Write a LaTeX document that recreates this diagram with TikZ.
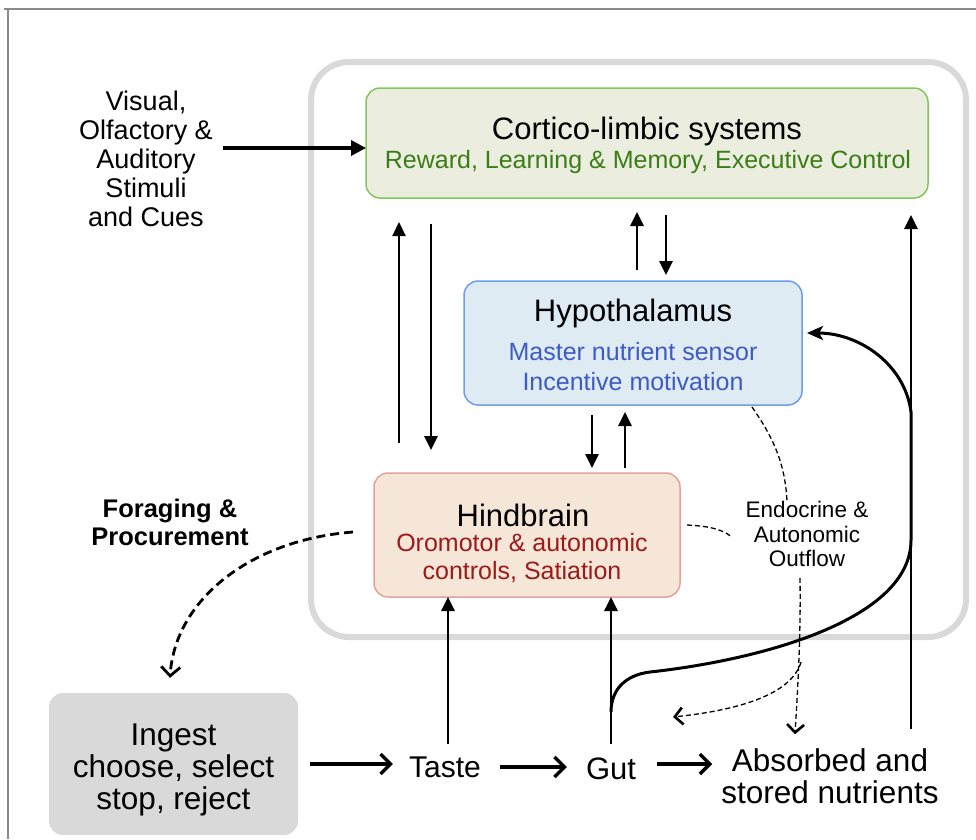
\documentclass[tikz,border=0pt]{standalone}
\usepackage{fontspec}
\setmainfont{Liberation Sans}
\usetikzlibrary{arrows.meta}
\definecolor{bigframe}{HTML}{D9D9D9}
\definecolor{gfill}{HTML}{EBEEDF}
\definecolor{gline}{HTML}{80C857}
\definecolor{gtext}{HTML}{3B7D17}
\definecolor{bfill}{HTML}{DFEBF3}
\definecolor{bline}{HTML}{6D9EEB}
\definecolor{btext}{HTML}{3D5BC2}
\definecolor{rfill}{HTML}{F6E6D8}
\definecolor{rline}{HTML}{E6A0A0}
\definecolor{rtext}{HTML}{9B1B1B}
\definecolor{ingfill}{HTML}{D9D9D9}
\definecolor{outline}{HTML}{8A8A8A}
\begin{document}
\begin{tikzpicture}[x=1pt,y=-1pt,
  box/.style={rectangle, rounded corners=14pt, line width=1.5pt, inner sep=0pt, outer sep=0pt},
  ttl/.style={font=\fontsize{31}{33}\selectfont, inner sep=0pt},
  sub/.style={font=\fontsize{25}{30}\selectfont, align=center, inner sep=0pt},
  lbl/.style={font=\fontsize{31.5}{32}\selectfont, align=center, inner sep=0pt},
  arrv/.style={line width=2.8pt, -{Triangle[length=14pt,width=13pt]}},
  arrh/.style={line width=3.4pt, -{Straight Barb[length=10pt,width=20pt]}},
  thindash/.style={line width=1.3pt, dash pattern=on 5pt off 3pt},
  thindasharr/.style={thindash, -{Straight Barb[length=8pt,width=17pt,line width=2.6pt]}},
]
\useasboundingbox (0,0) rectangle (976,839);
% outer frame lines
\draw[outline, line width=1.2pt] (4,9) -- (976,9);
\draw[outline, line width=1.2pt] (8,9) -- (8,839);

% big brain frame
\node[draw=bigframe, line width=6pt, rounded corners=38pt, minimum width=655pt, minimum height=575pt, inner sep=0pt] (brain) at (638.5,349.5) {};

% boxes
\node[box, draw=gline, fill=gfill, minimum width=562pt, minimum height=110pt] (cl) at (647,143) {};
\node[box, draw=bline, fill=bfill, minimum width=338pt, minimum height=124pt] (hyp) at (633,343) {};
\node[box, draw=rline, fill=rfill, minimum width=306pt, minimum height=124pt] (hb) at (527,535) {};
\node[rectangle, rounded corners=14pt, fill=ingfill, minimum width=249pt, minimum height=142pt, inner sep=0pt] (ing) at (173.5,764) {};

% box texts
\node[ttl] (clt) at (647,131) {Cortico-limbic systems};
\node[sub, text=gtext] (cls) at (648,162) {Reward, Learning \& Memory, Executive Control};
\node[ttl] (hypt) at (633,313) {Hypothalamus};
\node[sub, text=btext] (hyps) at (633,367) {Master nutrient sensor\\Incentive motivation};
\node[ttl] (hbt) at (523,515) {Hindbrain};
\node[sub, text=rtext, font=\fontsize{25}{28}\selectfont] (hbs) at (522,558) {Oromotor \& autonomic\\controls, Satiation};
\node[lbl] (ingt) at (173.5,770) {Ingest\\choose, select\\stop, reject};

% free labels
\node[font=\fontsize{27}{29}\selectfont, align=center, inner sep=0pt] (vis) at (146,159) {Visual,\\Olfactory \&\\Auditory\\Stimuli\\and Cues};
\node[font=\bfseries\fontsize{25.5}{28}\selectfont, align=center, inner sep=0pt] (for) at (170,522) {Foraging \&\\Procurement};
\node[font=\fontsize{22.5}{24.5}\selectfont, align=center, inner sep=0pt] (eao) at (807,534) {Endocrine \&\\Autonomic\\Outflow};
\node[font=\fontsize{30}{32}\selectfont, inner sep=0pt] (taste) at (445,767) {Taste};
\node[font=\fontsize{31}{32}\selectfont, inner sep=0pt] (gut) at (611,769) {Gut};
\node[lbl] (abs) at (830,776) {Absorbed and\\stored nutrients};

% coordinates for free ends
\coordinate (gutbranch) at (611,712);
\coordinate (branch) at (801,662);
\coordinate (bt) at (673,717);

% visual -> cortico
\draw[line width=3.4pt, -{Triangle[length=15pt,width=15pt]}, shorten <=10pt] (vis.east |- 0,148) -- (cl.west |- 0,148);

% cortico <-> hindbrain (left)
\draw[arrv, line width=2.2pt, shorten <=30pt, shorten >=24pt] (hb.north -| 399,0) -- (cl.south -| 399,0);
\draw[arrv, shorten <=26pt, shorten >=23pt] (cl.south -| 431,0) -- (hb.north -| 431,0);
% cortico <-> hypothalamus
\draw[arrv, shorten <=11pt, shorten >=14pt] (hyp.north -| 637,0) -- (cl.south -| 637,0);
\draw[arrv, shorten <=17pt, shorten >=6pt] (cl.south -| 666,0) -- (hyp.north -| 666,0);
% hypothalamus <-> hindbrain
\draw[arrv, shorten <=10pt, shorten >=5pt] (hyp.south -| 592,0) -- (hb.north -| 592,0);
\draw[arrv, shorten <=5pt, shorten >=7pt] (hb.north -| 625,0) -- (hyp.south -| 625,0);
% taste, gut -> hindbrain
\draw[arrv, shorten <=12pt] (taste.north -| 448,0) -- (hb.south -| 448,0);
\draw[arrv, shorten <=14pt] (gut.north -| 611,0) -- (hb.south -| 611,0);
% absorbed -> cortico
\draw[arrv, shorten <=19pt, shorten >=17pt] (abs.north -| 911,0) -- (cl.south -| 911,0);

% gut -> hypothalamus curve
\draw[line width=3pt, -{Stealth[length=16pt,width=14pt,inset=4pt]}, shorten >=5pt]
  (gutbranch) .. controls (611,690) and (625,675) .. (650,672)
  .. controls (760,660) and (911,620) .. (911,540)
  -- (911,412)
  .. controls (905,365) and (860,333) .. ([yshift=10pt]hyp.east);

% foraging dashed
\draw[line width=2.8pt, dash pattern=on 9pt off 5pt, -{Straight Barb[length=9pt,width=19pt,line width=2.8pt]}]
  ([xshift=-21pt,yshift=3pt]hb.west) .. controls (250,540) and (175,600) .. ([xshift=-3.5pt,yshift=15pt]ing.north);

% endocrine dashed lines
\draw[thindash] ([xshift=-50pt,yshift=-2pt]hyp.south east) .. controls (775,440) and (785,465) .. (eao.north -| 787,0);
\draw[thindash] ([xshift=7pt,yshift=10pt]hb.east) .. controls (705,526) and (720,528) .. ([xshift=-15pt,yshift=-2pt]eao.west);
\draw[thindasharr] ([xshift=-7pt,yshift=-11pt]eao.south) .. controls (801,640) and (797,700) .. ([xshift=-35pt,yshift=14pt]abs.north);
\draw[thindasharr] (branch) .. controls (790,700) and (720,712) .. (bt);

% bottom flow
\draw[arrh, shorten <=12pt, shorten >=16pt] (ing.east) -- (ing.east -| taste.west);
\draw[arrh, shorten <=19pt, shorten >=19pt] (taste.east) -- (taste.east -| gut.west);
\draw[arrh, shorten <=21pt, shorten >=9pt] ([yshift=5pt]gut.east) -- ([yshift=5pt]gut.east -| abs.west);
\end{tikzpicture}
\end{document}
